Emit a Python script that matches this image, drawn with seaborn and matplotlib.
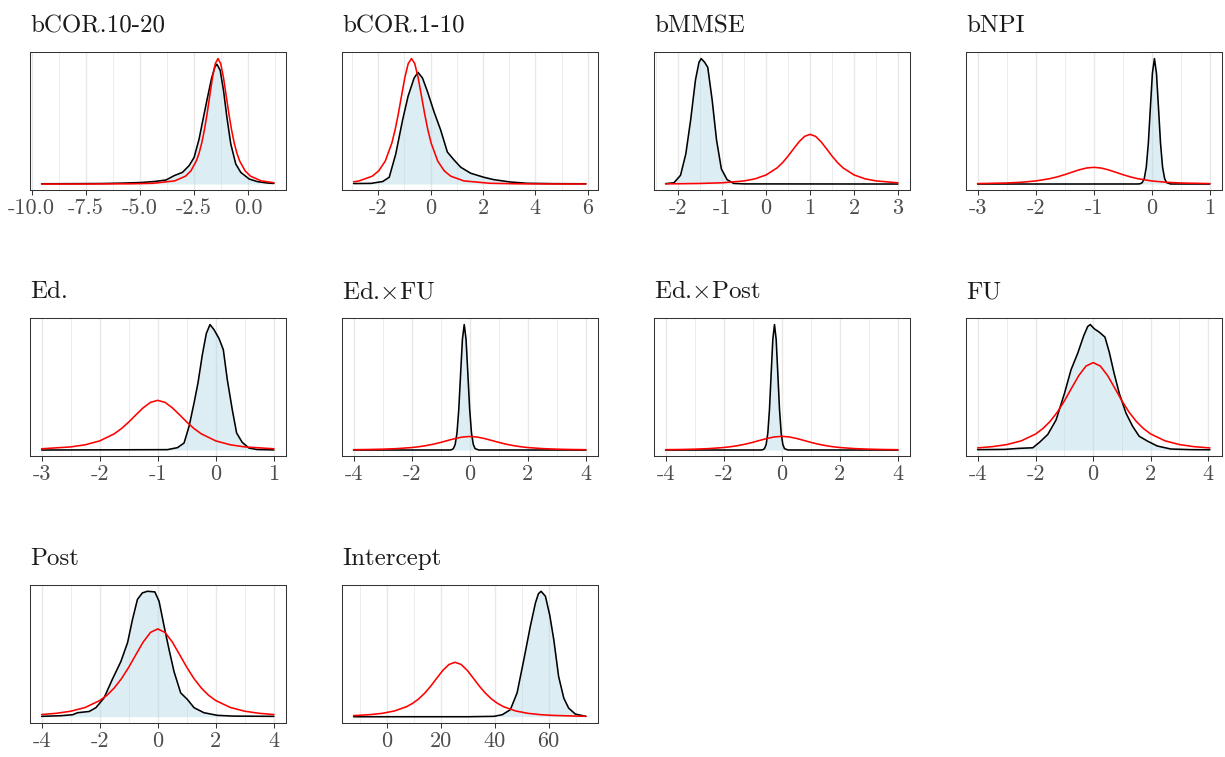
import numpy as np
import matplotlib
matplotlib.use("Agg")
import matplotlib.pyplot as plt
import seaborn as sns

# ---------------------------------------------------------------------------
# Parameter names, one panel each
# ---------------------------------------------------------------------------
params = ["bCOR.10-20", "bCOR.1-10", "bMMSE", "bNPI", "Ed.",
          r"Ed.$\times$FU", r"Ed.$\times$Post", "FU", "Post", "Intercept"]

# Posterior densities (black, filled) and prior densities (red); relative units
post_x_bcor1020 = [-9.54, -8.0, -6.8, -5.88, -4.96, -4.34, -3.8, -3.42, -3.04, -2.73, -2.5, -2.27,
                   -2.07, -1.88, -1.70, -1.545, -1.45, -1.30, -1.145, -0.99, -0.81, -0.58, -0.35,
                   0.04, 0.42, 0.88, 1.18]
post_y_bcor1020 = [0.002, 0.003, 0.004, 0.007, 0.012, 0.02, 0.032, 0.067, 0.093, 0.147, 0.213, 0.36,
                   0.533, 0.693, 0.84, 0.933, 0.955, 0.907, 0.747, 0.533, 0.32, 0.16, 0.093,
                   0.04, 0.019, 0.008, 0.005]
prior_x_bcor1020 = [-9.54, -7.4, -5.4, -4.4, -3.4, -2.9, -2.65, -2.4, -2.275, -2.15, -2.025, -1.9,
                    -1.775, -1.65, -1.525, -1.4, -1.275, -1.15, -1.025, -0.9, -0.775, -0.65, -0.525,
                    -0.4, -0.15, 0.1, 0.6, 1.18]
prior_y_bcor1020 = [0.0001, 0.0004, 0.0020, 0.0059, 0.0249, 0.0625, 0.1052, 0.1837, 0.2449, 0.3265,
                    0.4324, 0.5625, 0.709, 0.852, 0.9596, 1.0, 0.9596, 0.852, 0.709, 0.5625, 0.4324,
                    0.3265, 0.2449, 0.1837, 0.1052, 0.0625, 0.0249, 0.0105]

post_x_bcor110 = [-2.94, -2.28, -1.83, -1.58, -1.33, -1.07, -0.86, -0.63, -0.48, -0.31, -0.12, 0.13,
                  0.385, 0.64, 0.89, 1.15, 1.53, 2.03, 2.41, 3.05, 3.68, 4.7, 5.93]
post_y_bcor110 = [0.004, 0.005, 0.02, 0.054, 0.24, 0.51, 0.70, 0.845, 0.89, 0.845, 0.737, 0.576,
                  0.43, 0.255, 0.193, 0.134, 0.086, 0.054, 0.035, 0.016, 0.006, 0.003, 0.002]
prior_x_bcor110 = [-2.94, -2.73, -2.23, -1.98, -1.73, -1.48, -1.355, -1.23, -1.105, -0.98, -0.855,
                   -0.73, -0.605, -0.48, -0.355, -0.23, -0.105, 0.02, 0.27, 0.52, 0.77, 1.27, 2.27,
                   3.27, 4.27, 5.93]
prior_y_bcor110 = [0.0177, 0.0249, 0.0625, 0.1052, 0.1837, 0.3265, 0.4324, 0.5625, 0.709, 0.852,
                   0.9596, 1.0, 0.9596, 0.852, 0.709, 0.5625, 0.4324, 0.3265, 0.1837, 0.1052,
                   0.0625, 0.0249, 0.0059, 0.0020, 0.00085, 0.0003]

post_x_bmmse = [-2.29, -2.10, -1.95, -1.83, -1.72, -1.61, -1.53, -1.48, -1.40, -1.33, -1.23, -1.13,
                -1.02, -0.89, -0.74, -0.5, 3.0]
post_y_bmmse = [0.003, 0.01, 0.07, 0.24, 0.51, 0.83, 0.97, 1.0, 0.97, 0.93, 0.67, 0.35,
                0.12, 0.035, 0.005, 0.001, 0.0]
prior_x_bmmse = [-2.29, -2.0, -1.5, -1.0, -0.5, -0.25, 0.0, 0.25, 0.375, 0.5, 0.625, 0.75, 0.875,
                 1.0, 1.125, 1.25, 1.375, 1.5, 1.625, 1.75, 2.0, 2.25, 2.5, 3.0]
prior_y_bmmse = [0.0017, 0.0023, 0.0046, 0.0099, 0.0248, 0.0417, 0.0727, 0.129, 0.171, 0.223, 0.281,
                 0.337, 0.380, 0.396, 0.380, 0.337, 0.281, 0.223, 0.171, 0.129, 0.0727, 0.0417,
                 0.0248, 0.0099]

post_x_bnpi = [-3.0, -0.235, -0.2, -0.165, -0.13, -0.095, -0.06, -0.025, 0.01, 0.045, 0.08, 0.115,
               0.15, 0.185, 0.22, 0.255, 0.325, 1.0]
post_y_bnpi = [0.0, 0.0003, 0.0022, 0.0111, 0.0439, 0.1353, 0.3247, 0.6065, 0.8825, 1.0, 0.8825,
               0.6065, 0.3247, 0.1353, 0.0439, 0.0111, 0.0003, 0.0]
prior_x_bnpi = [-3.0, -2.5, -2.25, -2.0, -1.75, -1.625, -1.5, -1.375, -1.25, -1.125, -1.0, -0.875,
                -0.75, -0.625, -0.5, -0.375, -0.25, 0.0, 0.25, 0.5, 1.0]
prior_y_bnpi = [0.0033, 0.0083, 0.0140, 0.0244, 0.0434, 0.0575, 0.0748, 0.0943, 0.1133, 0.1276,
                0.133, 0.1276, 0.1133, 0.0943, 0.0748, 0.0575, 0.0434, 0.0244, 0.0140, 0.0083,
                0.0033]

post_x_ed = [-3.0, -0.834, -0.66, -0.547, -0.46, -0.375, -0.307, -0.232, -0.163, -0.10, -0.032,
             0.054, 0.129, 0.198, 0.284, 0.358, 0.455, 0.57, 0.71, 1.0]
post_y_ed = [0.0, 0.003, 0.019, 0.056, 0.19, 0.375, 0.535, 0.76, 0.93, 1.0, 0.96,
             0.89, 0.80, 0.56, 0.32, 0.136, 0.061, 0.016, 0.004, 0.001]
prior_x_ed = [-3.0, -2.5, -2.25, -2.0, -1.75, -1.625, -1.5, -1.375, -1.25, -1.125, -1.0, -0.875,
              -0.75, -0.625, -0.5, -0.375, -0.25, 0.0, 0.25, 0.5, 1.0]
prior_y_ed = [0.0099, 0.0248, 0.0417, 0.0727, 0.129, 0.171, 0.223, 0.281, 0.337, 0.380, 0.396,
              0.380, 0.337, 0.281, 0.223, 0.171, 0.129, 0.0727, 0.0417, 0.0248, 0.0099]

post_x_edfu = [-4.0, -0.69, -0.6275, -0.565, -0.5025, -0.44, -0.3775, -0.315, -0.2525, -0.19,
               -0.1275, -0.065, -0.0025, 0.06, 0.1225, 0.185, 0.31, 4.0]
post_y_edfu = [0.0, 0.0003, 0.0022, 0.0111, 0.0439, 0.1353, 0.3247, 0.6065, 0.8825, 1.0, 0.8825,
               0.6065, 0.3247, 0.1353, 0.0439, 0.0111, 0.0003, 0.0]
prior_x_edfu = [-4.0, -3.5, -3.0, -2.5, -2.0, -1.75, -1.5, -1.25, -1.0, -0.75, -0.5, -0.25, 0.0,
                0.25, 0.5, 0.75, 1.0, 1.25, 1.5, 1.75, 2.0, 2.5, 3.0, 3.5, 4.0]
prior_y_edfu = [0.0027, 0.0042, 0.0068, 0.0114, 0.0198, 0.0264, 0.0353, 0.0467, 0.0608, 0.0766,
                0.0920, 0.1036, 0.108, 0.1036, 0.0920, 0.0766, 0.0608, 0.0467, 0.0353, 0.0264,
                0.0198, 0.0114, 0.0068, 0.0042, 0.0027]

post_x_edpost = [-4.0, -0.71, -0.6525, -0.595, -0.5375, -0.48, -0.4225, -0.365, -0.3075, -0.25,
                 -0.1925, -0.135, -0.0775, -0.02, 0.0375, 0.095, 0.21, 4.0]
post_y_edpost = [0.0, 0.0003, 0.0022, 0.0111, 0.0439, 0.1353, 0.3247, 0.6065, 0.8825, 1.0, 0.8825,
                 0.6065, 0.3247, 0.1353, 0.0439, 0.0111, 0.0003, 0.0]
prior_x_edpost = [-4.0, -3.5, -3.0, -2.5, -2.0, -1.75, -1.5, -1.25, -1.0, -0.75, -0.5, -0.25, 0.0,
                  0.25, 0.5, 0.75, 1.0, 1.25, 1.5, 1.75, 2.0, 2.5, 3.0, 3.5, 4.0]
prior_y_edpost = [0.0027, 0.0042, 0.0068, 0.0115, 0.0200, 0.0267, 0.0356, 0.0471, 0.0613, 0.0773,
                  0.0929, 0.1046, 0.109, 0.1046, 0.0929, 0.0773, 0.0613, 0.0471, 0.0356, 0.0267,
                  0.0200, 0.0115, 0.0068, 0.0042, 0.0027]

post_x_fu = [-4.02, -3.08, -2.6, -2.1, -1.86, -1.58, -1.29, -1.0, -0.77, -0.54, -0.33, -0.19, -0.10,
             0.04, 0.21, 0.41, 0.56, 0.73, 0.91, 1.14, 1.37, 1.6, 1.89, 2.23, 2.7, 3.39, 4.06]
post_y_fu = [0.003, 0.005, 0.013, 0.018, 0.063, 0.124, 0.24, 0.45, 0.64, 0.77, 0.91, 0.985, 1.0,
             0.966, 0.94, 0.90, 0.78, 0.61, 0.45, 0.295, 0.19, 0.11, 0.071, 0.032, 0.008, 0.003,
             0.002]
prior_x_fu = [-4.02, -3.5, -3.0, -2.5, -2.0, -1.75, -1.5, -1.25, -1.0, -0.75, -0.5, -0.25, 0.0,
              0.25, 0.5, 0.75, 1.0, 1.25, 1.5, 1.75, 2.0, 2.5, 3.0, 3.5, 4.06]
prior_y_fu = [0.0172, 0.0270, 0.0436, 0.0733, 0.128, 0.171, 0.228, 0.301, 0.392, 0.494, 0.594,
              0.669, 0.697, 0.669, 0.594, 0.494, 0.392, 0.301, 0.228, 0.171, 0.128, 0.0733,
              0.0436, 0.0270, 0.0167]

post_x_post = [-4.0, -3.34, -2.93, -2.76, -2.36, -2.13, -1.85, -1.56, -1.27, -1.04, -0.87, -0.70,
               -0.53, -0.355, -0.10, 0.046, 0.22, 0.39, 0.56, 0.79, 1.02, 1.25, 1.59, 2.05, 2.6, 4.0]
post_y_post = [0.003, 0.008, 0.016, 0.032, 0.042, 0.072, 0.15, 0.30, 0.44, 0.59, 0.775, 0.935,
               0.987, 1.0, 0.995, 0.92, 0.72, 0.535, 0.36, 0.19, 0.138, 0.072, 0.032, 0.011,
               0.005, 0.003]
prior_x_post = [-4.0, -3.5, -3.0, -2.5, -2.0, -1.75, -1.5, -1.25, -1.0, -0.75, -0.5, -0.25, 0.0,
                0.25, 0.5, 0.75, 1.0, 1.25, 1.5, 1.75, 2.0, 2.5, 3.0, 3.5, 4.0]
prior_y_post = [0.0174, 0.0271, 0.0438, 0.0736, 0.129, 0.171, 0.229, 0.303, 0.394, 0.496, 0.596,
                0.672, 0.70, 0.672, 0.596, 0.496, 0.394, 0.303, 0.229, 0.171, 0.129, 0.0736,
                0.0438, 0.0271, 0.0174]

post_x_int = [-12.3, 30.0, 39.7, 42.8, 45.8, 48.3, 50.8, 53.2, 55.1, 56.2, 57.2, 58.8, 60.4, 61.9,
              63.7, 65.6, 67.4, 69.9, 73.8]
post_y_int = [0.0, 0.0, 0.003, 0.016, 0.056, 0.19, 0.455, 0.72, 0.907, 0.98, 1.0, 0.96, 0.81, 0.614,
              0.32, 0.149, 0.069, 0.021, 0.003]
prior_x_int = [-12.3, -10.7, -6.2, -1.7, 2.8, 7.3, 9.55, 11.8, 14.05, 16.3, 18.55, 20.8, 23.05,
               25.3, 27.55, 29.8, 32.05, 34.3, 36.55, 38.8, 41.05, 43.3, 47.8, 52.3, 56.8, 61.3,
               70.3, 73.8]
prior_y_int = [0.0093, 0.0108, 0.0168, 0.0271, 0.0457, 0.0797, 0.1063, 0.1417, 0.1877, 0.244,
               0.308, 0.370, 0.4165, 0.434, 0.4165, 0.370, 0.308, 0.244, 0.1877, 0.1417, 0.1063,
               0.0797, 0.0457, 0.0271, 0.0168, 0.0108, 0.0050, 0.0038]

# x-axis tick values and their labels
ticks_bcor1020 = [-10.0, -7.5, -5.0, -2.5, 0.0]
labels_bcor1020 = ["-10.0", "-7.5", "-5.0", "-2.5", "0.0"]
ticks_bcor110 = [-2, 0, 2, 4, 6]
ticks_unit = [-3, -2, -1, 0, 1]
ticks_bmmse = [-2, -1, 0, 1, 2, 3]
ticks_four = [-4, -2, 0, 2, 4]
ticks_int = [0, 20, 40, 60]

panels = [
    (post_x_bcor1020, post_y_bcor1020, prior_x_bcor1020, prior_y_bcor1020, ticks_bcor1020, labels_bcor1020),
    (post_x_bcor110, post_y_bcor110, prior_x_bcor110, prior_y_bcor110, ticks_bcor110, None),
    (post_x_bmmse, post_y_bmmse, prior_x_bmmse, prior_y_bmmse, ticks_bmmse, None),
    (post_x_bnpi, post_y_bnpi, prior_x_bnpi, prior_y_bnpi, ticks_unit, None),
    (post_x_ed, post_y_ed, prior_x_ed, prior_y_ed, ticks_unit, None),
    (post_x_edfu, post_y_edfu, prior_x_edfu, prior_y_edfu, ticks_four, None),
    (post_x_edpost, post_y_edpost, prior_x_edpost, prior_y_edpost, ticks_four, None),
    (post_x_fu, post_y_fu, prior_x_fu, prior_y_fu, ticks_four, None),
    (post_x_post, post_y_post, prior_x_post, prior_y_post, ticks_four, None),
    (post_x_int, post_y_int, prior_x_int, prior_y_int, ticks_int, None),
]

# ---------------------------------------------------------------------------
# Styling
# ---------------------------------------------------------------------------
sns.set_theme(style="white")
plt.rcParams["font.family"] = ["cmr10", "DejaVu Serif"]
plt.rcParams["mathtext.fontset"] = "cm"
plt.rcParams["axes.unicode_minus"] = False
plt.rcParams["axes.formatter.use_mathtext"] = True

FIG_W, FIG_H = 1225, 757
fig, axes = plt.subplots(3, 4, figsize=(FIG_W / 100, FIG_H / 100), dpi=100)

col_left = [30, 342, 654, 966]
row_top = [52.3, 318.3, 585.0]
AX_W, AX_H = 255.5, 138.0

for i, ax in enumerate(axes.flat):
    r, c = divmod(i, 4)
    ax.set_position([col_left[c] / FIG_W, 1 - (row_top[r] + AX_H) / FIG_H,
                     AX_W / FIG_W, AX_H / FIG_H])
    if i >= len(params):
        ax.set_visible(False)
        continue

    px, py, rx, ry, ticks, labels = panels[i]

    # posterior: filled area + outline, prior on top
    ax.fill_between(px, py, 0, color="lightblue", alpha=0.42, lw=0, zorder=1)
    sns.lineplot(x=px, y=py, ax=ax, color="black", linewidth=1.15,
                 estimator=None, sort=False, zorder=2)
    sns.lineplot(x=rx, y=ry, ax=ax, color="red", linewidth=1.15,
                 estimator=None, sort=False, zorder=3)

    # ggplot-like expanded limits
    xmin = min(min(px), min(rx))
    xmax = max(max(px), max(rx))
    xr = xmax - xmin
    lo, hi = xmin - 0.05 * xr, xmax + 0.05 * xr
    ax.set_xlim(lo, hi)
    ymax = max(max(py), max(ry))
    ax.set_ylim(-0.05 * ymax, 1.05 * ymax)

    # major and minor vertical grid lines
    ticks_in = [t for t in ticks if lo <= t <= hi]
    step = ticks[1] - ticks[0]
    ext = [ticks[0] - step] + list(ticks) + [ticks[-1] + step]
    minors = [(a + b) / 2 for a, b in zip(ext[:-1], ext[1:])]
    for m in minors:
        if lo <= m <= hi:
            ax.axvline(m, color="#EDEDED", lw=0.7, zorder=0)
    for t in ticks_in:
        ax.axvline(t, color="#E8E8E8", lw=1.0, zorder=0)

    ax.set_xticks(ticks_in)
    if labels is None:
        ax.set_xticklabels([str(t) for t in ticks_in])
    else:
        ax.set_xticklabels([l for t, l in zip(ticks, labels) if lo <= t <= hi])
    ax.set_yticks([])
    ax.set_xlabel("")
    ax.set_ylabel("")
    ax.tick_params(axis="x", length=3.6, width=0.75, color="#333333",
                   labelsize=16, labelcolor="#4D4D4D", pad=2.5, bottom=True)
    for s in ax.spines.values():
        s.set_visible(True)
        s.set_color("#333333")
        s.set_linewidth(0.75)
    ax.set_facecolor("white")
    ax.set_title(params[i], loc="left", pad=14.4, fontsize=18, color="#1A1A1A")

fig.savefig("out.png", dpi=100, facecolor="white")
